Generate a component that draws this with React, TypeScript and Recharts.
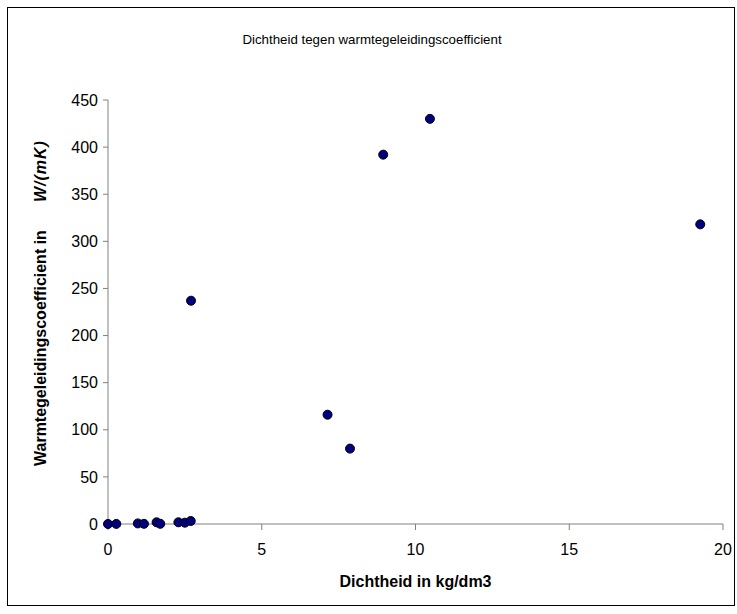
import { ScatterChart, Scatter, XAxis, YAxis, Label } from 'recharts';

const densities = [0, 0.27, 0.97, 1.17, 1.58, 1.7, 2.29, 2.5, 2.69, 2.7, 7.14, 7.87, 8.95, 10.47, 19.26];
const conductivities = [0.03, 0.1, 0.6, 0.2, 1.8, 0.2, 1.8, 1.4, 3.2, 237, 116, 80, 392, 430, 318];
const xTicks = [0, 5, 10, 15, 20];
const yTicks = [0, 50, 100, 150, 200, 250, 300, 350, 400, 450];

const points = densities.map((d, i) => ({ x: d, y: conductivities[i] }));

const FONT = '"Liberation Sans", Arial, sans-serif';

const Dot = (props: any) => (
  <circle cx={props.cx} cy={props.cy} r={4.5} fill="#000080" stroke="#000" strokeWidth={1} />
);

const YTitle = () => {
  const cx = 32;
  const cy = 458;
  return (
    <text
      x={cx}
      y={cy}
      transform={`rotate(-90, ${cx}, ${cy})`}
      textAnchor="start"
      dominantBaseline="central"
      fontFamily={FONT}
      fontSize={16}
      fontWeight="bold"
      fill="#000"
    >
      <tspan>Warmtegeleidingscoefficient in</tspan>
      <tspan dx={28} fontStyle="italic" letterSpacing={1}>W/(mK)</tspan>
    </text>
  );
};

export default function App() {
  return (
    <div
      style={{
        position: 'absolute',
        left: 7,
        top: 7,
        width: 728,
        height: 599,
        border: '1px solid #000',
        boxSizing: 'border-box',
        background: '#fff',
      }}
    >
      <ScatterChart width={726} height={597} margin={{ top: 92, right: 11, bottom: 51, left: 40 }}>
        <text x={364} y={31} textAnchor="middle" dominantBaseline="central" fontFamily={FONT} fontSize={13.3} fill="#000">
          Dichtheid tegen warmtegeleidingscoefficient
        </text>
        <XAxis
          type="number"
          dataKey="x"
          domain={[0, 20]}
          ticks={xTicks}
          interval={0}
          tickSize={6}
          tickMargin={14}
          stroke="#808080"
          tick={{ fill: '#000', fontSize: 16, fontFamily: FONT }}
          height={30}
        >
          <Label
            value="Dichtheid in kg/dm3"
            position="bottom"
            offset={22}
            style={{ fontFamily: FONT, fontSize: 16, fontWeight: 'bold', fill: '#000' }}
          />
        </XAxis>
        <YAxis
          type="number"
          dataKey="y"
          domain={[0, 450]}
          ticks={yTicks}
          interval={0}
          tickSize={5}
          tickMargin={5}
          stroke="#808080"
          tick={{ fill: '#000', fontSize: 16, fontFamily: FONT }}
          width={60}
        >
          <Label content={<YTitle />} />
        </YAxis>
        <Scatter data={points} shape={<Dot />} isAnimationActive={false} />
      </ScatterChart>
    </div>
  );
}
